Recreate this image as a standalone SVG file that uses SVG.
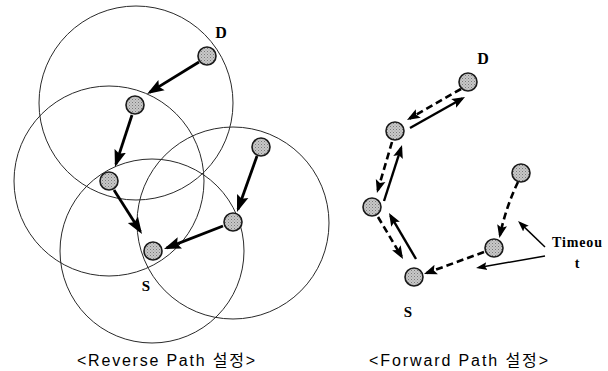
<svg xmlns="http://www.w3.org/2000/svg" width="608" height="371" viewBox="0 0 608 371">
<style>
.range{fill:none;stroke:#2a2a2a;stroke-width:1}
.node{fill:url(#stip);stroke:#1a1a1a;stroke-width:1.6}
.big{stroke:#000;stroke-width:2.8;fill:none;marker-end:url(#ahBig)}
.sol{stroke:#000;stroke-width:2.4;fill:none;marker-end:url(#ahMid)}
.dash{stroke:#000;stroke-width:2.6;fill:none;stroke-dasharray:7 4;marker-end:url(#ahMid)}
.thin{stroke:#000;stroke-width:1.5;fill:none;marker-end:url(#ahThin)}
.lbl{font-family:"Liberation Serif","Times New Roman",serif;font-weight:bold;fill:#000}
.cap{font-family:"Liberation Sans",Arial,"Noto Sans CJK KR",sans-serif;font-size:16px;fill:#000}
</style>
<defs>
<pattern id="stip" width="3" height="3" patternUnits="userSpaceOnUse">
<rect width="3" height="3" fill="#c8c8c8"/>
<rect x="0" y="0" width="1" height="1" fill="#7a7a7a"/>
<rect x="1.5" y="1.5" width="1" height="1" fill="#959595"/>
</pattern>
<marker id="ahBig" markerUnits="userSpaceOnUse" markerWidth="19" markerHeight="14" viewBox="0 0 19 14" refX="14" refY="7" orient="auto">
<path d="M0,1 L17,7 L0,13 L3,7 z" fill="#000"/>
</marker>
<marker id="ahMid" markerUnits="userSpaceOnUse" markerWidth="15" markerHeight="12" viewBox="0 0 15 12" refX="10" refY="6" orient="auto">
<path d="M0,1 L13,6 L0,11 L2.5,6 z" fill="#000"/>
</marker>
<marker id="ahThin" markerUnits="userSpaceOnUse" markerWidth="13" markerHeight="10" viewBox="0 0 13 10" refX="8" refY="5" orient="auto">
<path d="M0,1 L11,5 L0,9 L2,5 z" fill="#000"/>
</marker>
</defs>

<g id="ranges">
<circle class="range" cx="136" cy="103" r="97"/>
<circle class="range" cx="109" cy="181" r="95"/>
<circle class="range" cx="233" cy="223" r="96"/>
<circle class="range" cx="152" cy="251" r="92"/>
</g>

<g id="connectors">
<line class="big" x1="199" y1="62" x2="149.6" y2="92.4"/>
<line class="big" x1="132" y1="115" x2="115.9" y2="164.1"/>
<line class="big" x1="114" y1="190" x2="140.4" y2="231.5"/>
<line class="big" x1="257" y1="156" x2="238" y2="209.2"/>
<line class="big" x1="223" y1="226" x2="166.8" y2="247.9"/>

<line class="dash" x1="461" y1="89" x2="409.6" y2="118.5"/>
<line class="sol" x1="410" y1="128" x2="462.4" y2="98.5"/>
<line class="dash" x1="392" y1="142" x2="377.8" y2="190.1"/>
<line class="sol" x1="384" y1="201" x2="401.1" y2="147.9"/>
<line class="dash" x1="378" y1="217" x2="401.5" y2="256.4"/>
<line class="sol" x1="416" y1="259" x2="390.5" y2="215.6"/>
<path class="dash" d="M518,182 Q506,207 500,235"/>
<line class="dash" x1="484" y1="252" x2="426.8" y2="273"/>
<line class="thin" x1="545" y1="256" x2="479" y2="267.5"/>
<line class="thin" x1="545" y1="247" x2="520.2" y2="223.1"/>
</g>

<g id="rev-D"><circle class="node" cx="207" cy="56" r="9"/><text class="lbl" x="221" y="38" font-size="16" text-anchor="middle">D</text></g>
<g id="rev-n2"><circle class="node" cx="135" cy="105" r="9"/></g>
<g id="rev-n3"><circle class="node" cx="109" cy="181" r="9"/></g>
<g id="rev-n4"><circle class="node" cx="261" cy="147" r="9"/></g>
<g id="rev-n5"><circle class="node" cx="233" cy="222" r="9"/></g>
<g id="rev-S"><circle class="node" cx="153" cy="251" r="9"/><text class="lbl" x="146" y="291" font-size="15" text-anchor="middle">S</text></g>

<g id="fwd-D"><circle class="node" cx="468" cy="82" r="9"/><text class="lbl" x="483" y="64" font-size="16" text-anchor="middle">D</text></g>
<g id="fwd-n2"><circle class="node" cx="395" cy="131" r="9"/></g>
<g id="fwd-n3"><circle class="node" cx="372" cy="207" r="9"/></g>
<g id="fwd-S"><circle class="node" cx="414" cy="277" r="9"/><text class="lbl" x="408" y="317" font-size="15" text-anchor="middle">S</text></g>
<g id="fwd-n5"><circle class="node" cx="494" cy="248" r="9"/></g>
<g id="fwd-n6"><circle class="node" cx="521" cy="173" r="9"/></g>

<g id="timeout">
<text class="lbl" x="552" y="247" font-size="14" textLength="50" lengthAdjust="spacing">Timeou</text>
<text class="lbl" x="577" y="268" font-size="14" text-anchor="middle">t</text>
</g>

<g id="captions">
<text class="cap" x="77" y="366" textLength="178" lengthAdjust="spacing">&lt;Reverse Path 설정&gt;</text>
<text class="cap" x="369" y="366" textLength="179" lengthAdjust="spacing">&lt;Forward Path 설정&gt;</text>
</g>
</svg>
